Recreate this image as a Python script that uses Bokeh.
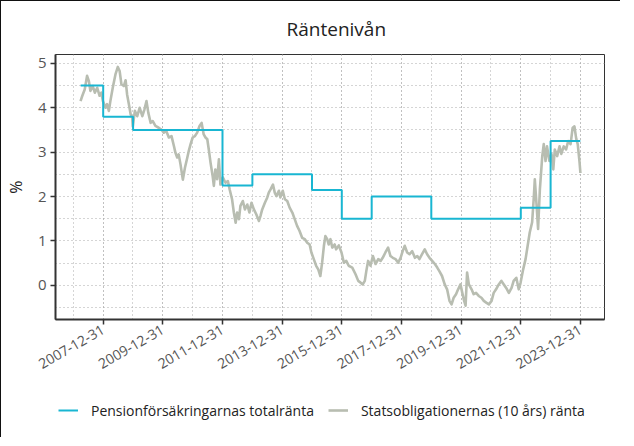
from datetime import datetime, timedelta
from bokeh.plotting import figure
from bokeh.layouts import column
from bokeh.models import (Range1d, FixedTicker, DatetimeTickFormatter, Legend, LegendItem,
                          ColumnDataSource)
from bokeh.embed import file_html
from bokeh.resources import INLINE
import math

# ---------------- data ----------------
title_text = "Räntenivån"
y_label = "%"
series_names = ["Pensionförsäkringarnas totalränta", "Statsobligationernas (10 års) ränta"]

# step series: Pensionförsäkringarnas totalränta (value valid from date)
pension_dates = ["2007-03-31", "2008-01-01", "2009-01-01", "2012-01-01", "2013-01-01",
                 "2015-01-01", "2016-01-01", "2017-01-01", "2019-01-01", "2022-01-01",
                 "2023-01-01", "2023-12-31"]
pension_vals = [4.5, 3.8, 3.5, 2.25, 2.5, 2.15, 1.5, 2.0, 1.5, 1.75, 3.25, 3.25]

# 10-year government bond yield (decimal year, %)
bond_t = [2007.24, 2007.30, 2007.38, 2007.46, 2007.52, 2007.57, 2007.65, 2007.72, 2007.80, 2007.88,
          2007.94, 2007.99, 2008.08, 2008.13, 2008.19, 2008.24, 2008.32, 2008.41, 2008.49, 2008.55,
          2008.61, 2008.69, 2008.75, 2008.80, 2008.86, 2008.92, 2008.97, 2008.99, 2009.06, 2009.14,
          2009.22, 2009.31, 2009.38, 2009.45, 2009.51, 2009.59, 2009.66, 2009.75, 2009.86, 2009.95,
          2010.03, 2010.11, 2010.20, 2010.29, 2010.37, 2010.42, 2010.48, 2010.53, 2010.59, 2010.67,
          2010.74, 2010.82, 2010.87, 2010.93, 2011.00, 2011.07, 2011.15, 2011.23, 2011.30, 2011.37,
          2011.43, 2011.49, 2011.54, 2011.60, 2011.67, 2011.71, 2011.76, 2011.82, 2011.88, 2011.93,
          2012.01, 2012.10, 2012.18, 2012.24, 2012.32, 2012.38, 2012.44, 2012.49, 2012.55, 2012.60,
          2012.68, 2012.75, 2012.83, 2012.90, 2012.97, 2013.05, 2013.13, 2013.22, 2013.27, 2013.33,
          2013.42, 2013.50, 2013.55, 2013.61, 2013.69, 2013.75, 2013.81, 2013.89, 2013.94, 2014.02,
          2014.09, 2014.17, 2014.25, 2014.34, 2014.42, 2014.50, 2014.58, 2014.67, 2014.76, 2014.84,
          2014.92, 2014.98, 2015.06, 2015.14, 2015.21, 2015.28, 2015.34, 2015.40, 2015.45, 2015.51,
          2015.56, 2015.62, 2015.68, 2015.76, 2015.81, 2015.90, 2015.99, 2016.07, 2016.15, 2016.23,
          2016.35, 2016.46, 2016.55, 2016.63, 2016.70, 2016.77, 2016.82, 2016.88, 2016.96, 2017.04,
          2017.13, 2017.22, 2017.30, 2017.37, 2017.46, 2017.55, 2017.63, 2017.71, 2017.80, 2017.89,
          2017.97, 2018.04, 2018.11, 2018.19, 2018.27, 2018.36, 2018.45, 2018.53, 2018.60, 2018.69,
          2018.78, 2018.86, 2018.94, 2019.03, 2019.12, 2019.20, 2019.27, 2019.36, 2019.45, 2019.53,
          2019.61, 2019.68, 2019.75, 2019.83, 2019.90, 2019.98, 2020.04, 2020.09, 2020.15, 2020.20,
          2020.26, 2020.35, 2020.42, 2020.50, 2020.59, 2020.68, 2020.76, 2020.84, 2020.93, 2021.02,
          2021.09, 2021.17, 2021.26, 2021.35, 2021.43, 2021.51, 2021.60, 2021.69, 2021.76, 2021.85,
          2021.93, 2021.99, 2022.08, 2022.16, 2022.23, 2022.30, 2022.38, 2022.44, 2022.47, 2022.53,
          2022.58, 2022.64, 2022.72, 2022.77, 2022.83, 2022.88, 2022.96, 2023.03, 2023.09, 2023.14,
          2023.22, 2023.30, 2023.36, 2023.44, 2023.52, 2023.59, 2023.67, 2023.74, 2023.80, 2023.86,
          2023.91, 2023.97, 2024.00]
bond_v = [4.15, 4.27, 4.41, 4.72, 4.60, 4.38, 4.49, 4.34, 4.45, 4.27,
          4.34, 4.15, 4.00, 4.08, 3.93, 4.15, 4.45, 4.75, 4.92, 4.83,
          4.53, 4.49, 4.62, 4.30, 4.08, 3.85, 3.78, 3.58, 3.93, 3.81,
          4.00, 3.81, 3.96, 4.15, 3.89, 3.66, 3.70, 3.59, 3.55, 3.51,
          3.44, 3.48, 3.33, 3.36, 3.14, 2.99, 2.88, 2.95, 2.73, 2.38,
          2.65, 2.88, 3.03, 3.18, 3.33, 3.36, 3.44, 3.59, 3.66, 3.40,
          3.33, 3.29, 3.06, 2.76, 2.46, 2.24, 2.61, 2.39, 2.84, 2.27,
          2.43, 2.31, 2.35, 2.16, 1.94, 1.64, 1.41, 1.64, 1.49, 1.79,
          1.90, 1.71, 1.82, 1.64, 1.86, 1.71, 1.60, 1.45, 1.56, 1.71,
          1.86, 1.98, 2.09, 2.16, 2.27, 2.09, 2.01, 2.13, 1.98, 2.13,
          1.94, 1.90, 1.75, 1.64, 1.49, 1.34, 1.23, 1.07, 1.04, 0.96,
          0.92, 0.74, 0.59, 0.44, 0.36, 0.21, 0.51, 0.89, 1.11, 1.04,
          0.92, 1.04, 0.85, 0.92, 0.81, 0.90, 0.74, 0.51, 0.55, 0.44,
          0.40, 0.25, 0.10, 0.06, 0.02, 0.10, 0.32, 0.55, 0.44, 0.66,
          0.48, 0.59, 0.55, 0.62, 0.74, 0.85, 0.66, 0.62, 0.59, 0.51,
          0.62, 0.77, 0.89, 0.74, 0.70, 0.77, 0.62, 0.66, 0.59, 0.70,
          0.81, 0.70, 0.62, 0.55, 0.48, 0.40, 0.32, 0.21, 0.02, -0.09,
          -0.35, -0.43, -0.28, -0.20, -0.09, 0.02, -0.17, -0.32, -0.46, 0.29,
          0.02, -0.09, -0.20, -0.17, -0.24, -0.28, -0.35, -0.39, -0.43, -0.35,
          -0.17, -0.09, 0.02, 0.10, 0.02, -0.06, -0.17, -0.06, 0.10, 0.17,
          -0.09, 0.05, 0.36, 0.59, 0.89, 1.19, 1.42, 2.02, 2.39, 1.80,
          1.27, 2.16, 2.91, 3.18, 2.80, 3.13, 2.80, 2.96, 2.61, 3.06,
          2.91, 3.13, 2.96, 3.13, 3.06, 3.25, 3.18, 3.55, 3.58, 3.30,
          3.18, 2.78, 2.53]

x_major_labels = ["2007-12-31", "2009-12-31", "2011-12-31", "2013-12-31", "2015-12-31",
                  "2017-12-31", "2019-12-31", "2021-12-31", "2023-12-31"]
x_grid_dates = ["2006-12-31", "2007-12-31", "2008-12-31", "2009-12-31", "2010-12-31",
                "2011-12-31", "2012-12-31", "2013-12-31", "2014-12-31", "2015-12-31",
                "2016-12-31", "2017-12-31", "2018-12-31", "2019-12-31", "2020-12-31",
                "2021-12-31", "2022-12-31", "2023-12-31", "2024-12-31"]
y_major = [0, 1, 2, 3, 4, 5]
y_minor = [-0.5, 0.5, 1.5, 2.5, 3.5, 4.5]
x_limits = ["2006-05-27", "2024-10-22"]
y_limits = [-0.77, 5.2]

# ---------------- helpers ----------------
def dec_year(y):
    yr = int(math.floor(y))
    start = datetime(yr, 1, 1)
    days = (datetime(yr + 1, 1, 1) - start).days
    return start + timedelta(days=(y - yr) * days)

def d(s):
    return datetime.strptime(s, "%Y-%m-%d")

def ms(dt):
    return (dt - datetime(1970, 1, 1)).total_seconds() * 1000.0

CYAN = "#19b6d2"
GREY = "#b8bdb1"
FONT = "Open Sans"
W = 619

bond_x = [dec_year(t) for t in bond_t]
pen_x = [d(s) for s in pension_dates]

p = figure(width=W, frame_height=265, x_axis_type="datetime", output_backend="svg",
           toolbar_location=None, title=title_text,
           x_range=Range1d(d(x_limits[0]), d(x_limits[1])),
           y_range=Range1d(y_limits[0], y_limits[1]),
           min_border_left=40, min_border_right=16, min_border_top=52, min_border_bottom=62)

p.background_fill_color = "white"
p.border_fill_color = "white"
p.outline_line_color = "#333333"
p.outline_line_width = 1

p.title.align = "left"
p.title.text_font = FONT
p.title.text_font_style = "normal"
p.title.text_font_size = "19px"
p.title.text_color = "#222222"
p.title.offset = 231
p.title.standoff = 25

src_bond = ColumnDataSource(dict(x=bond_x, y=bond_v))
r_bond = p.line("x", "y", source=src_bond, line_color=GREY, line_width=2.6, line_join="round")
r_pen = p.step(x=pen_x, y=pension_vals, mode="after", line_color=CYAN, line_width=2)

# axes
xa = p.xaxis[0]
xa.ticker = FixedTicker(ticks=[ms(d(s)) for s in x_major_labels],
                        minor_ticks=[ms(d(s)) for s in x_grid_dates])
xa.formatter = DatetimeTickFormatter(days="%Y-%m-%d", months="%Y-%m-%d", years="%Y-%m-%d")
xa.major_label_orientation = math.radians(30)
ya = p.yaxis[0]
ya.ticker = FixedTicker(ticks=y_major, minor_ticks=y_minor)
ya.axis_label = y_label
ya.axis_label_text_font = FONT
ya.axis_label_text_font_style = "normal"
ya.axis_label_text_font_size = "16px"
ya.axis_label_text_color = "#222222"
ya.axis_label_standoff = 8

for ax in (xa, ya):
    ax.axis_line_color = "#333333"
    ax.axis_line_width = 2
    ax.major_tick_line_color = "#333333"
    ax.major_tick_line_width = 1.5
    ax.major_tick_out = 5
    ax.major_tick_in = 0
    ax.minor_tick_line_color = None
    ax.major_label_text_font = FONT
    ax.major_label_text_color = "#555555"
xa.major_label_text_font_size = "14px"
ya.major_label_text_font_size = "15px"
ya.major_label_standoff = 4
xa.major_label_standoff = 4

for g in (p.xgrid[0], p.ygrid[0]):
    g.grid_line_color = "#aaaaaa"
    g.grid_line_dash = "1 3"
    g.grid_line_width = 1
    g.minor_grid_line_color = "#aaaaaa"
    g.minor_grid_line_dash = "1 3"
    g.minor_grid_line_width = 1

# legend strip below the chart (same series, drawn outside this strip's view)
pl = figure(width=W, height=56, output_backend="svg", toolbar_location=None,
            x_axis_type="datetime", x_axis_location=None, y_axis_location=None,
            x_range=Range1d(d(x_limits[0]), d(x_limits[1])), y_range=Range1d(100, 101),
            min_border=0)
pl.grid.visible = False
pl.outline_line_color = None
lg_pen = pl.step(x=pen_x, y=pension_vals, mode="after", line_color=CYAN, line_width=2)
lg_bond = pl.line(x=bond_x, y=bond_v, line_color=GREY, line_width=2.6)
legend = Legend(items=[LegendItem(label=series_names[0], renderers=[lg_pen]),
                       LegendItem(label=series_names[1], renderers=[lg_bond])],
                orientation="horizontal", location=(3, 17),
                label_text_font=FONT, label_text_font_size="14px", label_text_color="#222222",
                glyph_width=20, label_standoff=13, spacing=14, border_line_color=None,
                background_fill_alpha=0, margin=0, padding=4)
pl.add_layout(legend)

layout = column(p, pl, spacing=0,
                styles={"border-top": "1px solid #111", "border-left": "1px solid #111"})

open("out.html", "w").write(file_html(layout, INLINE))
